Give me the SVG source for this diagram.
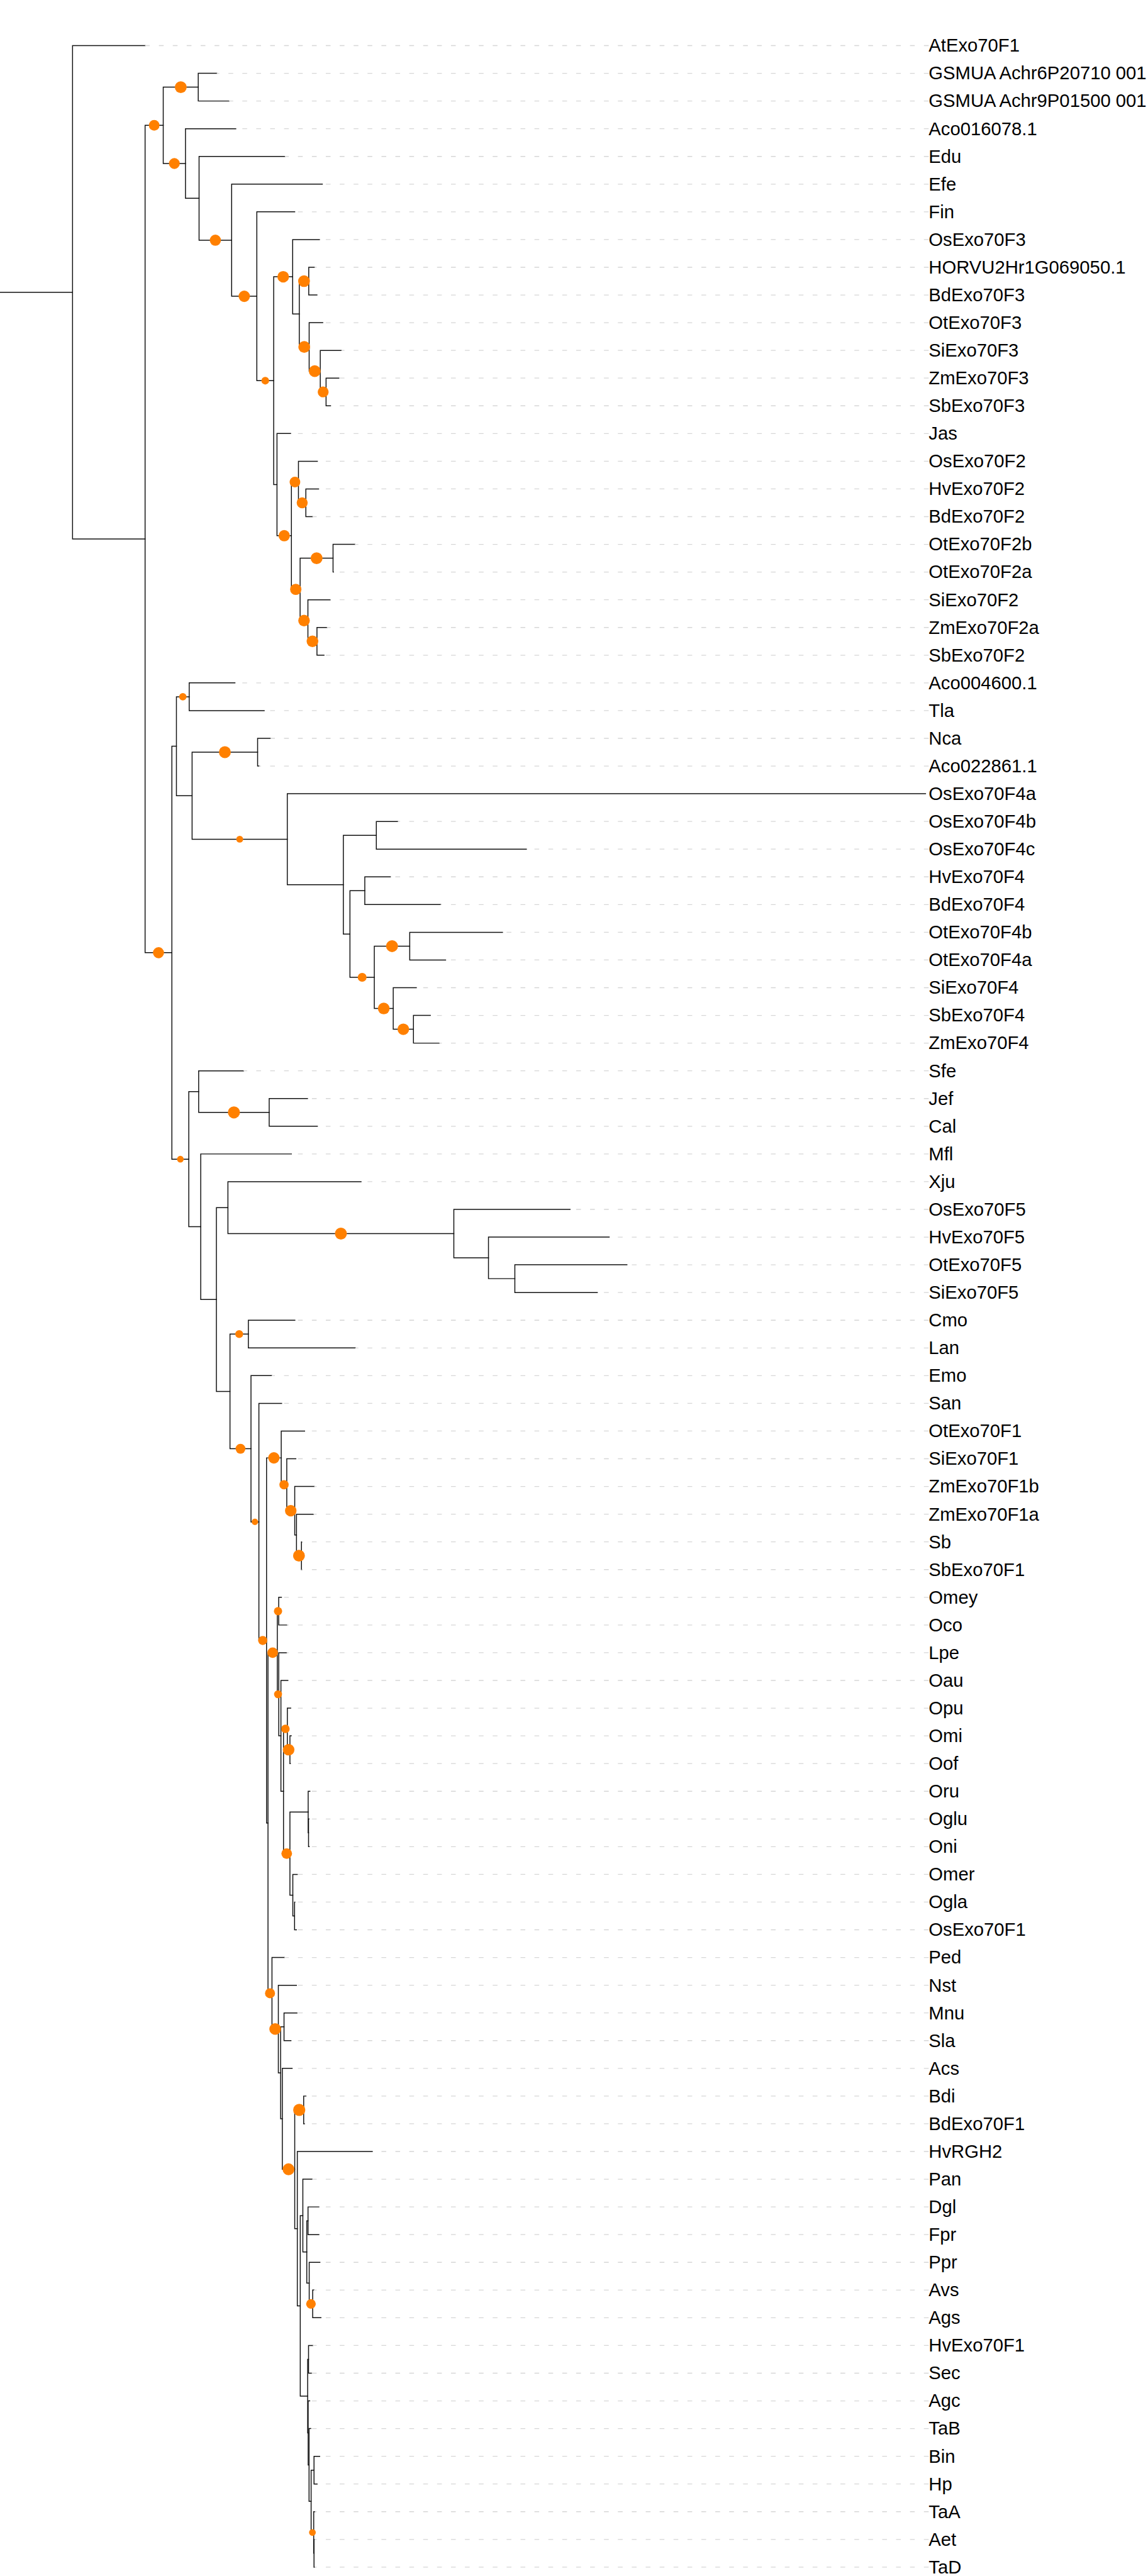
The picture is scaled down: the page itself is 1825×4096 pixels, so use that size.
<svg xmlns="http://www.w3.org/2000/svg" width="1825" height="4096" viewBox="0 0 1825 4096">
<style>
.br{fill:none;stroke:#111;stroke-width:1.8;stroke-linecap:square}
.guide{fill:none;stroke:#d6d6d6;stroke-width:1.6;stroke-dasharray:9.2 17.7}
.leaf text{font-family:"Liberation Sans",Arial,sans-serif;font-size:35.6px;fill:#000}
.sup circle{fill:#ff8000}
</style>
<rect width="1825" height="4096" fill="#fff"/>
<g transform="scale(0.822)">
<g id="connectors">
<path class="br" id="e-root" d="M0 565.45H140.3M140.3 88.2V1042.7M140.3 88.2H280.6M140.3 1042.7H280.6"/>
<path class="br" id="e-A" d="M280.6 242.45V1842.9M280.6 242.45H315.7M280.6 1842.9H332.4"/>
<path class="br" id="e-B" d="M315.7 168.6V316.3M315.7 168.6H383.4M315.7 316.3H358.7"/>
<path class="br" id="e-B1" d="M383.4 141.8V195.4M383.4 141.8H419.3M383.4 195.4H443.2"/>
<path class="br" id="e-B2" d="M358.7 249V383.6M358.7 249H456M358.7 383.6H385"/>
<path class="br" id="e-B2b" d="M385 302.6V464.65M385 302.6H550.9M385 464.65H448"/>
<path class="br" id="e-B2c" d="M448 356.2V573.1M448 356.2H623.4M448 573.1H496.7"/>
<path class="br" id="e-B2d" d="M496.7 409.8V736.4M496.7 409.8H570M496.7 736.4H529.3"/>
<path class="br" id="e-B2e" d="M529.3 535.4V937.4M529.3 535.4H566M529.3 937.4H535.7"/>
<path class="br" id="e-B2f" d="M566 463.4V607.45M566 463.4H617.8M566 607.45H578.8"/>
<path class="br" id="e-B2g" d="M578.8 543.8V671.1M578.8 543.8H597.1M578.8 671.1H597.9"/>
<path class="br" id="e-n910" d="M597.1 517V570.6M597.1 517H608.3M597.1 570.6H613"/>
<path class="br" id="e-B2h" d="M597.9 624.2V718M597.9 624.2H624.2M597.9 718H619.4"/>
<path class="br" id="e-B2i" d="M619.4 677.8V758.2M619.4 677.8H660.1M619.4 758.2H630.6"/>
<path class="br" id="e-B2j" d="M630.6 731.4V785M630.6 731.4H655.3M630.6 785H639.3"/>
<path class="br" id="e-B2k" d="M535.7 838.6V1036.25M535.7 838.6H562M535.7 1036.25H563.6"/>
<path class="br" id="e-B2l" d="M563.6 932.4V1140.1M563.6 932.4H577.2M563.6 1140.1H580.4"/>
<path class="br" id="e-B2m" d="M577.2 892.2V972.6M577.2 892.2H613.8M577.2 972.6H591.5"/>
<path class="br" id="e-B2n" d="M591.5 945.8V999.4M591.5 945.8H616.2M591.5 999.4H604.3"/>
<path class="br" id="e-B2o" d="M580.4 1079.8V1200.4M580.4 1079.8H644.1M580.4 1200.4H595.5"/>
<path class="br" id="e-B2p" d="M644.1 1053V1106.6M644.1 1053H686.4M644.1 1106.6H645"/>
<path class="br" id="e-B2q" d="M595.5 1160.2V1240.6M595.5 1160.2H638.6M595.5 1240.6H613"/>
<path class="br" id="e-B2r" d="M613 1213.8V1267.4M613 1213.8H632.2M613 1267.4H626.6"/>
<path class="br" id="e-C" d="M332.4 1443.5V2242.3M332.4 1443.5H341.2M332.4 2242.3H365.1"/>
<path class="br" id="e-C1" d="M341.2 1347.8V1539.2M341.2 1347.8H365.9M341.2 1539.2H371.5"/>
<path class="br" id="e-C1a" d="M365.9 1321V1374.6M365.9 1321H454.4M365.9 1374.6H511"/>
<path class="br" id="e-C1b" d="M371.5 1455V1623.35M371.5 1455H498.2M371.5 1623.35H555.6"/>
<path class="br" id="e-C1c" d="M498.2 1428.2V1481.8M498.2 1428.2H523M498.2 1481.8H501"/>
<path class="br" id="e-C1d" d="M555.6 1535.4V1711.3M555.6 1535.4H1790M555.6 1711.3H664"/>
<path class="br" id="e-C1e" d="M664 1615.8V1806.75M664 1615.8H727.8M664 1806.75H676.8"/>
<path class="br" id="e-C1f" d="M727.8 1589V1642.6M727.8 1589H769.3M727.8 1642.6H1018"/>
<path class="br" id="e-C1g" d="M676.8 1723V1890.5M676.8 1723H705.5M676.8 1890.5H723.9"/>
<path class="br" id="e-C1h" d="M705.5 1696.2V1749.8M705.5 1696.2H755M705.5 1749.8H852.2"/>
<path class="br" id="e-C1i" d="M723.9 1830.2V1950.8M723.9 1830.2H792.4M723.9 1950.8H760.5"/>
<path class="br" id="e-C1j" d="M792.4 1803.4V1857M792.4 1803.4H971.8M792.4 1857H861.8"/>
<path class="br" id="e-C1k" d="M760.5 1910.6V1991M760.5 1910.6H805.2M760.5 1991H799.6"/>
<path class="br" id="e-C1l" d="M799.6 1964.2V2017.8M799.6 1964.2H832.3M799.6 2017.8H849.8"/>
<path class="br" id="e-C2" d="M365.1 2111.6V2373M365.1 2111.6H384.2M365.1 2373H388.2"/>
<path class="br" id="e-C2a" d="M384.2 2071.4V2151.8M384.2 2071.4H471.1M384.2 2151.8H520.6"/>
<path class="br" id="e-C2b" d="M520.6 2125V2178.6M520.6 2125H594.7M520.6 2178.6H613.8"/>
<path class="br" id="e-C2c" d="M388.2 2232.2V2513.8M388.2 2232.2H563.6M388.2 2513.8H418.5"/>
<path class="br" id="e-C2d" d="M418.5 2336.05V2691.5M418.5 2336.05H440.8M418.5 2691.5H444.8"/>
<path class="br" id="e-C2e" d="M440.8 2285.8V2386.3M440.8 2285.8H698.3M440.8 2386.3H877.7"/>
<path class="br" id="e-C2f" d="M877.7 2339.4V2433.2M877.7 2339.4H1102.5M877.7 2433.2H944.7"/>
<path class="br" id="e-C2g" d="M944.7 2393V2473.4M944.7 2393H1178.2M944.7 2473.4H995.7"/>
<path class="br" id="e-C2h" d="M995.7 2446.6V2500.2M995.7 2446.6H1212.5M995.7 2500.2H1155.2"/>
<path class="br" id="e-C2i" d="M444.8 2580.6V2802.45M444.8 2580.6H480.3M444.8 2802.45H485.4"/>
<path class="br" id="e-C2j" d="M480.3 2553.8V2607.4M480.3 2553.8H570.3M480.3 2607.4H687.3"/>
<path class="br" id="e-C2k" d="M485.4 2661V2943.9M485.4 2661H525.5M485.4 2943.9H500.7"/>
<path class="br" id="e-C2l" d="M500.7 2714.6V3173.25M500.7 2714.6H544.7M500.7 3173.25H515.5"/>
<path class="br" id="e-C2m" d="M515.5 2820.1V3526.4M515.5 2820.1H543.9M515.5 3526.4H518.3"/>
<path class="br" id="e-C2n" d="M543.9 2768.2V2872.05M543.9 2768.2H589.1M543.9 2872.05H554.6"/>
<path class="br" id="e-s52" d="M554.6 2821.8V2922.3M554.6 2821.8H572.2M554.6 2922.3H570"/>
<path class="br" id="e-s53" d="M570 2875.4V2969.2M570 2875.4H607.8M570 2969.2H573.4"/>
<path class="br" id="e-s54" d="M573.4 2929V3009.4M573.4 2929H606.3M573.4 3009.4H583"/>
<path class="br" id="e-s56" d="M583 2982.6V3036.2M583 2982.6H584M583 3036.2H583.5"/>
<path class="br" id="e-C2o" d="M518.3 3197V3855.75M518.3 3197H536.3M518.3 3855.75H526"/>
<path class="br" id="e-X" d="M536.3 3116.6V3277.4M536.3 3116.6H539M536.3 3277.4H539.1"/>
<path class="br" id="e-OmOc" d="M539 3089.8V3143.4M539 3089.8H544.3M539 3143.4H555"/>
<path class="br" id="e-Y" d="M539.1 3197V3357.8M539.1 3197H554.3M539.1 3357.8H543.3"/>
<path class="br" id="e-Z" d="M543.3 3250.6V3465M543.3 3250.6H557.3M543.3 3465H548.3"/>
<path class="br" id="e-W" d="M548.3 3344.4V3585.6M548.3 3344.4H555.7M548.3 3585.6H560.7"/>
<path class="br" id="e-V" d="M555.7 3304.2V3384.6M555.7 3304.2H562.3M555.7 3384.6H560.7"/>
<path class="br" id="e-U" d="M560.7 3357.8V3411.4M560.7 3357.8H563.3M560.7 3411.4H561.5"/>
<path class="br" id="e-T" d="M560.7 3505.2V3666M560.7 3505.2H596M560.7 3666H566.3"/>
<path class="br" id="e-S" d="M596 3465V3545.4M596 3465H599.3M596 3545.4H596.7"/>
<path class="br" id="e-R" d="M596.7 3518.6V3572.2M596.7 3518.6H597.5M596.7 3572.2H598"/>
<path class="br" id="e-Q" d="M566.3 3625.8V3706.2M566.3 3625.8H575M566.3 3706.2H569.7"/>
<path class="br" id="e-P" d="M569.7 3679.4V3733M569.7 3679.4H570.3M569.7 3733H573.3"/>
<path class="br" id="e-O" d="M526 3786.6V3924.9M526 3786.6H550M526 3924.9H538.3"/>
<path class="br" id="e-N" d="M538.3 3840.2V4009.6M538.3 3840.2H573.3M538.3 4009.6H542.7"/>
<path class="br" id="e-M" d="M542.7 3920.6V4098.6M542.7 3920.6H549.3M542.7 4098.6H546"/>
<path class="br" id="e-L" d="M549.3 3893.8V3947.4M549.3 3893.8H574.3M549.3 3947.4H562.7"/>
<path class="br" id="e-K" d="M546 4001V4196.25M546 4001H565M546 4196.25H570"/>
<path class="br" id="e-J" d="M570 4081.4V4311.1M570 4081.4H587.3M570 4311.1H575"/>
<path class="br" id="e-I" d="M587.3 4054.6V4108.2M587.3 4054.6H591.7M587.3 4108.2H588.7"/>
<path class="br" id="e-H" d="M575 4161.8V4460.4M575 4161.8H720M575 4460.4H580.7"/>
<path class="br" id="e-G" d="M580.7 4285.75V4635M580.7 4285.75H585.7M580.7 4635H595"/>
<path class="br" id="e-F" d="M585.7 4215.4V4356.1M585.7 4215.4H603.7M585.7 4356.1H593.3"/>
<path class="br" id="e-E" d="M593.3 4295.8V4416.4M593.3 4295.8H595.7M593.3 4416.4H598"/>
<path class="br" id="e-D1" d="M595.7 4269V4322.6M595.7 4269H616.7M595.7 4322.6H616.7"/>
<path class="br" id="e-D2" d="M598 4376.2V4456.6M598 4376.2H618.7M598 4456.6H604.7"/>
<path class="br" id="e-D3" d="M604.7 4429.8V4483.4M604.7 4429.8H607.3M604.7 4483.4H620.7"/>
<path class="br" id="e-G2" d="M595 4563.8V4706.2M595 4563.8H596.7M595 4706.2H596"/>
<path class="br" id="e-P1" d="M596.7 4537V4590.6M596.7 4537H605M596.7 4590.6H602.3"/>
<path class="br" id="e-P2" d="M596 4644.2V4768.15M596 4644.2H599M596 4768.15H597.7"/>
<path class="br" id="e-P3" d="M597.7 4697.8V4838.5M597.7 4697.8H601M597.7 4838.5H601.7"/>
<path class="br" id="e-P4" d="M601.7 4778.2V4898.8M601.7 4778.2H607.3M601.7 4898.8H606.7"/>
<path class="br" id="e-BH" d="M607.3 4751.4V4805M607.3 4751.4H618.3M607.3 4805H613.3"/>
<path class="br" id="e-P5" d="M606.7 4858.6V4939M606.7 4858.6H609M606.7 4939H607.3"/>
<path class="br" id="e-AT" d="M607.3 4912.2V4965.8M607.3 4912.2H608M607.3 4965.8H608.3"/>
</g>
<g id="support" class="sup">
<circle cx="298.2" cy="242.45" r="10.3"/>
<circle cx="349.6" cy="168.6" r="11.5"/>
<circle cx="337.2" cy="316.3" r="10.5"/>
<circle cx="416.5" cy="464.65" r="10.8"/>
<circle cx="472.4" cy="573.1" r="11"/>
<circle cx="513" cy="736.4" r="7.4"/>
<circle cx="547.7" cy="535.4" r="11.2"/>
<circle cx="588" cy="543.8" r="11.4"/>
<circle cx="588.4" cy="671.1" r="11.4"/>
<circle cx="608.7" cy="718" r="11.4"/>
<circle cx="625" cy="758.2" r="10.5"/>
<circle cx="549.7" cy="1036.25" r="11"/>
<circle cx="570.4" cy="932.4" r="10.3"/>
<circle cx="584.4" cy="972.6" r="10.6"/>
<circle cx="572" cy="1140.1" r="10.9"/>
<circle cx="612.3" cy="1079.8" r="11.5"/>
<circle cx="588" cy="1200.4" r="11.2"/>
<circle cx="604.3" cy="1240.6" r="11.3"/>
<circle cx="306.5" cy="1842.9" r="10.7"/>
<circle cx="353.6" cy="1347.8" r="7.2"/>
<circle cx="434.9" cy="1455" r="11.5"/>
<circle cx="463.6" cy="1623.35" r="6.6"/>
<circle cx="700.4" cy="1890.5" r="8.6"/>
<circle cx="758.2" cy="1830.2" r="11.5"/>
<circle cx="742.2" cy="1950.8" r="11.3"/>
<circle cx="780" cy="1991" r="11.2"/>
<circle cx="348.8" cy="2242.3" r="6.5"/>
<circle cx="452.4" cy="2151.8" r="11.7"/>
<circle cx="659.3" cy="2386.3" r="11.5"/>
<circle cx="462.6" cy="2580.6" r="7.6"/>
<circle cx="465.1" cy="2802.45" r="9.5"/>
<circle cx="493" cy="2943.9" r="6.1"/>
<circle cx="529.7" cy="2820.1" r="11"/>
<circle cx="549.3" cy="2872.05" r="9"/>
<circle cx="562.3" cy="2922.3" r="11.1"/>
<circle cx="578.2" cy="3009.4" r="11.4"/>
<circle cx="508.1" cy="3173.25" r="8.8"/>
<circle cx="537.7" cy="3116.6" r="8"/>
<circle cx="527.3" cy="3197" r="10.2"/>
<circle cx="537.7" cy="3277.4" r="7.7"/>
<circle cx="552" cy="3344.4" r="8.2"/>
<circle cx="558.2" cy="3384.6" r="11.2"/>
<circle cx="554.5" cy="3585.6" r="10.3"/>
<circle cx="522.2" cy="3855.75" r="9.7"/>
<circle cx="532.2" cy="3924.9" r="11.3"/>
<circle cx="578.7" cy="4081.4" r="11.7"/>
<circle cx="558" cy="4196.25" r="11.5"/>
<circle cx="601.4" cy="4456.6" r="9.3"/>
<circle cx="604.2" cy="4898.8" r="6.5"/>
</g>
<g id="leaf-AtExo70F1" class="leaf"><path class="guide" d="M1796 88.2H280.6"/><text x="1796" y="100.2">AtExo70F1</text></g>
<g id="leaf-GSMUA_Achr6P20710_001" class="leaf"><path class="guide" d="M1796 141.8H419.3"/><text x="1796" y="153.8">GSMUA Achr6P20710 001</text></g>
<g id="leaf-GSMUA_Achr9P01500_001" class="leaf"><path class="guide" d="M1796 195.4H443.2"/><text x="1796" y="207.4">GSMUA Achr9P01500 001</text></g>
<g id="leaf-Aco016078.1" class="leaf"><path class="guide" d="M1796 249H456"/><text x="1796" y="261">Aco016078.1</text></g>
<g id="leaf-Edu" class="leaf"><path class="guide" d="M1796 302.6H550.9"/><text x="1796" y="314.6">Edu</text></g>
<g id="leaf-Efe" class="leaf"><path class="guide" d="M1796 356.2H623.4"/><text x="1796" y="368.2">Efe</text></g>
<g id="leaf-Fin" class="leaf"><path class="guide" d="M1796 409.8H570"/><text x="1796" y="421.8">Fin</text></g>
<g id="leaf-OsExo70F3" class="leaf"><path class="guide" d="M1796 463.4H617.8"/><text x="1796" y="475.4">OsExo70F3</text></g>
<g id="leaf-HORVU2Hr1G069050.1" class="leaf"><path class="guide" d="M1796 517H608.3"/><text x="1796" y="529">HORVU2Hr1G069050.1</text></g>
<g id="leaf-BdExo70F3" class="leaf"><path class="guide" d="M1796 570.6H613"/><text x="1796" y="582.6">BdExo70F3</text></g>
<g id="leaf-OtExo70F3" class="leaf"><path class="guide" d="M1796 624.2H624.2"/><text x="1796" y="636.2">OtExo70F3</text></g>
<g id="leaf-SiExo70F3" class="leaf"><path class="guide" d="M1796 677.8H660.1"/><text x="1796" y="689.8">SiExo70F3</text></g>
<g id="leaf-ZmExo70F3" class="leaf"><path class="guide" d="M1796 731.4H655.3"/><text x="1796" y="743.4">ZmExo70F3</text></g>
<g id="leaf-SbExo70F3" class="leaf"><path class="guide" d="M1796 785H639.3"/><text x="1796" y="797">SbExo70F3</text></g>
<g id="leaf-Jas" class="leaf"><path class="guide" d="M1796 838.6H562"/><text x="1796" y="850.6">Jas</text></g>
<g id="leaf-OsExo70F2" class="leaf"><path class="guide" d="M1796 892.2H613.8"/><text x="1796" y="904.2">OsExo70F2</text></g>
<g id="leaf-HvExo70F2" class="leaf"><path class="guide" d="M1796 945.8H616.2"/><text x="1796" y="957.8">HvExo70F2</text></g>
<g id="leaf-BdExo70F2" class="leaf"><path class="guide" d="M1796 999.4H604.3"/><text x="1796" y="1011.4">BdExo70F2</text></g>
<g id="leaf-OtExo70F2b" class="leaf"><path class="guide" d="M1796 1053H686.4"/><text x="1796" y="1065">OtExo70F2b</text></g>
<g id="leaf-OtExo70F2a" class="leaf"><path class="guide" d="M1796 1106.6H645"/><text x="1796" y="1118.6">OtExo70F2a</text></g>
<g id="leaf-SiExo70F2" class="leaf"><path class="guide" d="M1796 1160.2H638.6"/><text x="1796" y="1172.2">SiExo70F2</text></g>
<g id="leaf-ZmExo70F2a" class="leaf"><path class="guide" d="M1796 1213.8H632.2"/><text x="1796" y="1225.8">ZmExo70F2a</text></g>
<g id="leaf-SbExo70F2" class="leaf"><path class="guide" d="M1796 1267.4H626.6"/><text x="1796" y="1279.4">SbExo70F2</text></g>
<g id="leaf-Aco004600.1" class="leaf"><path class="guide" d="M1796 1321H454.4"/><text x="1796" y="1333">Aco004600.1</text></g>
<g id="leaf-Tla" class="leaf"><path class="guide" d="M1796 1374.6H511"/><text x="1796" y="1386.6">Tla</text></g>
<g id="leaf-Nca" class="leaf"><path class="guide" d="M1796 1428.2H523"/><text x="1796" y="1440.2">Nca</text></g>
<g id="leaf-Aco022861.1" class="leaf"><path class="guide" d="M1796 1481.8H501"/><text x="1796" y="1493.8">Aco022861.1</text></g>
<g id="leaf-OsExo70F4a" class="leaf"><text x="1796" y="1547.4">OsExo70F4a</text></g>
<g id="leaf-OsExo70F4b" class="leaf"><path class="guide" d="M1796 1589H769.3"/><text x="1796" y="1601">OsExo70F4b</text></g>
<g id="leaf-OsExo70F4c" class="leaf"><path class="guide" d="M1796 1642.6H1018"/><text x="1796" y="1654.6">OsExo70F4c</text></g>
<g id="leaf-HvExo70F4" class="leaf"><path class="guide" d="M1796 1696.2H755"/><text x="1796" y="1708.2">HvExo70F4</text></g>
<g id="leaf-BdExo70F4" class="leaf"><path class="guide" d="M1796 1749.8H852.2"/><text x="1796" y="1761.8">BdExo70F4</text></g>
<g id="leaf-OtExo70F4b" class="leaf"><path class="guide" d="M1796 1803.4H971.8"/><text x="1796" y="1815.4">OtExo70F4b</text></g>
<g id="leaf-OtExo70F4a" class="leaf"><path class="guide" d="M1796 1857H861.8"/><text x="1796" y="1869">OtExo70F4a</text></g>
<g id="leaf-SiExo70F4" class="leaf"><path class="guide" d="M1796 1910.6H805.2"/><text x="1796" y="1922.6">SiExo70F4</text></g>
<g id="leaf-SbExo70F4" class="leaf"><path class="guide" d="M1796 1964.2H832.3"/><text x="1796" y="1976.2">SbExo70F4</text></g>
<g id="leaf-ZmExo70F4" class="leaf"><path class="guide" d="M1796 2017.8H849.8"/><text x="1796" y="2029.8">ZmExo70F4</text></g>
<g id="leaf-Sfe" class="leaf"><path class="guide" d="M1796 2071.4H471.1"/><text x="1796" y="2083.4">Sfe</text></g>
<g id="leaf-Jef" class="leaf"><path class="guide" d="M1796 2125H594.7"/><text x="1796" y="2137">Jef</text></g>
<g id="leaf-Cal" class="leaf"><path class="guide" d="M1796 2178.6H613.8"/><text x="1796" y="2190.6">Cal</text></g>
<g id="leaf-Mfl" class="leaf"><path class="guide" d="M1796 2232.2H563.6"/><text x="1796" y="2244.2">Mfl</text></g>
<g id="leaf-Xju" class="leaf"><path class="guide" d="M1796 2285.8H698.3"/><text x="1796" y="2297.8">Xju</text></g>
<g id="leaf-OsExo70F5" class="leaf"><path class="guide" d="M1796 2339.4H1102.5"/><text x="1796" y="2351.4">OsExo70F5</text></g>
<g id="leaf-HvExo70F5" class="leaf"><path class="guide" d="M1796 2393H1178.2"/><text x="1796" y="2405">HvExo70F5</text></g>
<g id="leaf-OtExo70F5" class="leaf"><path class="guide" d="M1796 2446.6H1212.5"/><text x="1796" y="2458.6">OtExo70F5</text></g>
<g id="leaf-SiExo70F5" class="leaf"><path class="guide" d="M1796 2500.2H1155.2"/><text x="1796" y="2512.2">SiExo70F5</text></g>
<g id="leaf-Cmo" class="leaf"><path class="guide" d="M1796 2553.8H570.3"/><text x="1796" y="2565.8">Cmo</text></g>
<g id="leaf-Lan" class="leaf"><path class="guide" d="M1796 2607.4H687.3"/><text x="1796" y="2619.4">Lan</text></g>
<g id="leaf-Emo" class="leaf"><path class="guide" d="M1796 2661H525.5"/><text x="1796" y="2673">Emo</text></g>
<g id="leaf-San" class="leaf"><path class="guide" d="M1796 2714.6H544.7"/><text x="1796" y="2726.6">San</text></g>
<g id="leaf-OtExo70F1" class="leaf"><path class="guide" d="M1796 2768.2H589.1"/><text x="1796" y="2780.2">OtExo70F1</text></g>
<g id="leaf-SiExo70F1" class="leaf"><path class="guide" d="M1796 2821.8H572.2"/><text x="1796" y="2833.8">SiExo70F1</text></g>
<g id="leaf-ZmExo70F1b" class="leaf"><path class="guide" d="M1796 2875.4H607.8"/><text x="1796" y="2887.4">ZmExo70F1b</text></g>
<g id="leaf-ZmExo70F1a" class="leaf"><path class="guide" d="M1796 2929H606.3"/><text x="1796" y="2941">ZmExo70F1a</text></g>
<g id="leaf-Sb" class="leaf"><path class="guide" d="M1796 2982.6H584"/><text x="1796" y="2994.6">Sb</text></g>
<g id="leaf-SbExo70F1" class="leaf"><path class="guide" d="M1796 3036.2H583.5"/><text x="1796" y="3048.2">SbExo70F1</text></g>
<g id="leaf-Omey" class="leaf"><path class="guide" d="M1796 3089.8H544.3"/><text x="1796" y="3101.8">Omey</text></g>
<g id="leaf-Oco" class="leaf"><path class="guide" d="M1796 3143.4H555"/><text x="1796" y="3155.4">Oco</text></g>
<g id="leaf-Lpe" class="leaf"><path class="guide" d="M1796 3197H554.3"/><text x="1796" y="3209">Lpe</text></g>
<g id="leaf-Oau" class="leaf"><path class="guide" d="M1796 3250.6H557.3"/><text x="1796" y="3262.6">Oau</text></g>
<g id="leaf-Opu" class="leaf"><path class="guide" d="M1796 3304.2H562.3"/><text x="1796" y="3316.2">Opu</text></g>
<g id="leaf-Omi" class="leaf"><path class="guide" d="M1796 3357.8H563.3"/><text x="1796" y="3369.8">Omi</text></g>
<g id="leaf-Oof" class="leaf"><path class="guide" d="M1796 3411.4H561.5"/><text x="1796" y="3423.4">Oof</text></g>
<g id="leaf-Oru" class="leaf"><path class="guide" d="M1796 3465H599.3"/><text x="1796" y="3477">Oru</text></g>
<g id="leaf-Oglu" class="leaf"><path class="guide" d="M1796 3518.6H597.5"/><text x="1796" y="3530.6">Oglu</text></g>
<g id="leaf-Oni" class="leaf"><path class="guide" d="M1796 3572.2H598"/><text x="1796" y="3584.2">Oni</text></g>
<g id="leaf-Omer" class="leaf"><path class="guide" d="M1796 3625.8H575"/><text x="1796" y="3637.8">Omer</text></g>
<g id="leaf-Ogla" class="leaf"><path class="guide" d="M1796 3679.4H570.3"/><text x="1796" y="3691.4">Ogla</text></g>
<g id="leaf-OsExo70F1" class="leaf"><path class="guide" d="M1796 3733H573.3"/><text x="1796" y="3745">OsExo70F1</text></g>
<g id="leaf-Ped" class="leaf"><path class="guide" d="M1796 3786.6H550"/><text x="1796" y="3798.6">Ped</text></g>
<g id="leaf-Nst" class="leaf"><path class="guide" d="M1796 3840.2H573.3"/><text x="1796" y="3852.2">Nst</text></g>
<g id="leaf-Mnu" class="leaf"><path class="guide" d="M1796 3893.8H574.3"/><text x="1796" y="3905.8">Mnu</text></g>
<g id="leaf-Sla" class="leaf"><path class="guide" d="M1796 3947.4H562.7"/><text x="1796" y="3959.4">Sla</text></g>
<g id="leaf-Acs" class="leaf"><path class="guide" d="M1796 4001H565"/><text x="1796" y="4013">Acs</text></g>
<g id="leaf-Bdi" class="leaf"><path class="guide" d="M1796 4054.6H591.7"/><text x="1796" y="4066.6">Bdi</text></g>
<g id="leaf-BdExo70F1" class="leaf"><path class="guide" d="M1796 4108.2H588.7"/><text x="1796" y="4120.2">BdExo70F1</text></g>
<g id="leaf-HvRGH2" class="leaf"><path class="guide" d="M1796 4161.8H720"/><text x="1796" y="4173.8">HvRGH2</text></g>
<g id="leaf-Pan" class="leaf"><path class="guide" d="M1796 4215.4H603.7"/><text x="1796" y="4227.4">Pan</text></g>
<g id="leaf-Dgl" class="leaf"><path class="guide" d="M1796 4269H616.7"/><text x="1796" y="4281">Dgl</text></g>
<g id="leaf-Fpr" class="leaf"><path class="guide" d="M1796 4322.6H616.7"/><text x="1796" y="4334.6">Fpr</text></g>
<g id="leaf-Ppr" class="leaf"><path class="guide" d="M1796 4376.2H618.7"/><text x="1796" y="4388.2">Ppr</text></g>
<g id="leaf-Avs" class="leaf"><path class="guide" d="M1796 4429.8H607.3"/><text x="1796" y="4441.8">Avs</text></g>
<g id="leaf-Ags" class="leaf"><path class="guide" d="M1796 4483.4H620.7"/><text x="1796" y="4495.4">Ags</text></g>
<g id="leaf-HvExo70F1" class="leaf"><path class="guide" d="M1796 4537H605"/><text x="1796" y="4549">HvExo70F1</text></g>
<g id="leaf-Sec" class="leaf"><path class="guide" d="M1796 4590.6H602.3"/><text x="1796" y="4602.6">Sec</text></g>
<g id="leaf-Agc" class="leaf"><path class="guide" d="M1796 4644.2H599"/><text x="1796" y="4656.2">Agc</text></g>
<g id="leaf-TaB" class="leaf"><path class="guide" d="M1796 4697.8H601"/><text x="1796" y="4709.8">TaB</text></g>
<g id="leaf-Bin" class="leaf"><path class="guide" d="M1796 4751.4H618.3"/><text x="1796" y="4763.4">Bin</text></g>
<g id="leaf-Hp" class="leaf"><path class="guide" d="M1796 4805H613.3"/><text x="1796" y="4817">Hp</text></g>
<g id="leaf-TaA" class="leaf"><path class="guide" d="M1796 4858.6H609"/><text x="1796" y="4870.6">TaA</text></g>
<g id="leaf-Aet" class="leaf"><path class="guide" d="M1796 4912.2H608"/><text x="1796" y="4924.2">Aet</text></g>
<g id="leaf-TaD" class="leaf"><path class="guide" d="M1796 4965.8H608.3"/><text x="1796" y="4977.8">TaD</text></g>
</g>
</svg>
